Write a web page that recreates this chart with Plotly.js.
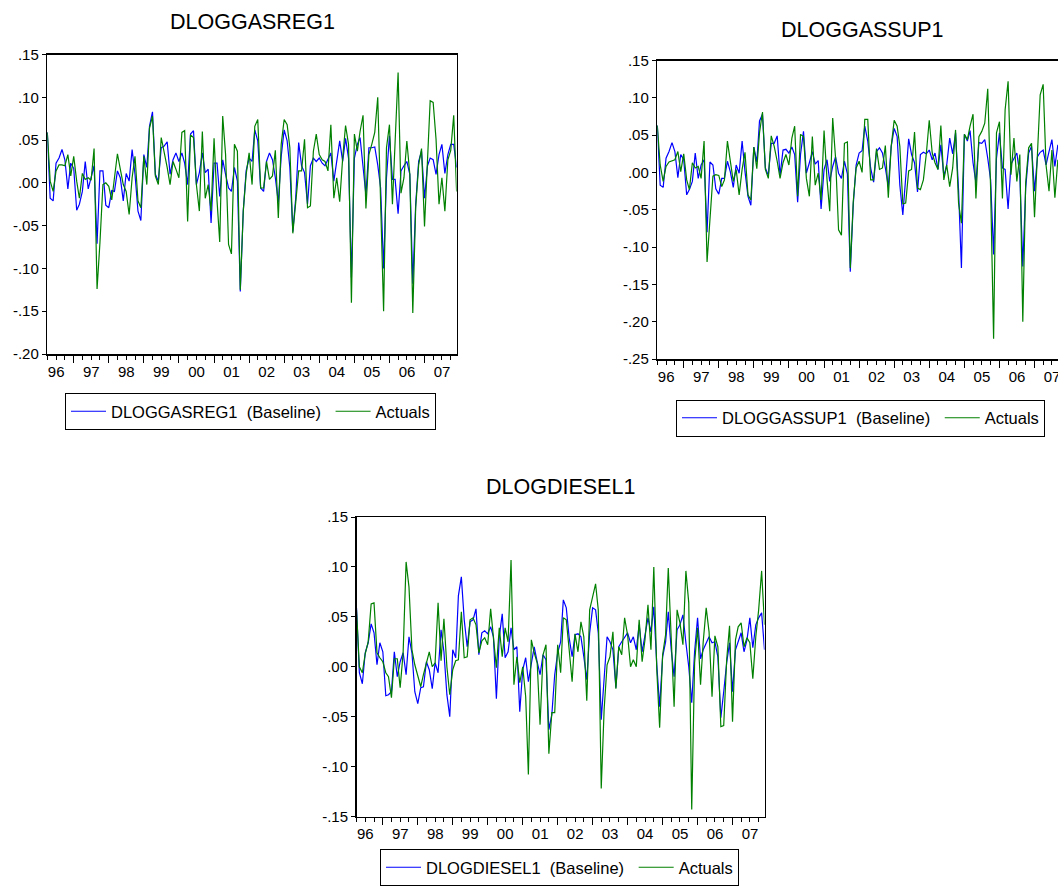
<!DOCTYPE html>
<html>
<head>
<meta charset="utf-8">
<script src="https://cdn.plot.ly/plotly-3.0.1.min.js"></script>
<style>
  html, body { margin: 0; padding: 0; background: #ffffff; overflow: hidden; width: 1058px; height: 886px; }
  #wrap { position: relative; width: 1058px; height: 886px; overflow: hidden; }
  #chart { position: absolute; left: 0; top: 0; width: 1080px; height: 886px; }
</style>
</head>
<body>
<div id="wrap"><div id="chart"></div></div>
<script>
// Monthly observations 1996M04 .. 2007M12
const startYear = 1996, startMonth = 4, nObs = 141;
const months = [];
for (let k = 0; k < nObs; k++) {
  const t = (startMonth - 1) + k;
  const y = startYear + Math.floor(t / 12);
  const m = (t % 12) + 1;
  months.push(y + '-' + (m < 10 ? '0' + m : m) + '-01');
}

const yTicks1 = [0.15, 0.10, 0.05, 0.00, -0.05, -0.10, -0.15, -0.20];
const yText1 = ['.15', '.10', '.05', '.00', '-.05', '-.10', '-.15', '-.20'];
const yTicks2 = [0.15, 0.10, 0.05, 0.00, -0.05, -0.10, -0.15, -0.20, -0.25];
const yText2 = ['.15', '.10', '.05', '.00', '-.05', '-.10', '-.15', '-.20', '-.25'];
const yTicks3 = [0.15, 0.10, 0.05, 0.00, -0.05, -0.10, -0.15];
const yText3 = ['.15', '.10', '.05', '.00', '-.05', '-.10', '-.15'];

// DLOGGASREG1
const gasregBaseline = [
  .059,-.018,-.021,.023,.029,.039,.027,-.007,.023,.017,
  -.032,-.025,-.010,.025,-.007,.008,.020,-.071,.014,.014,
  -.026,-.029,-.009,-.010,.014,.006,-.021,.011,.002,.039,
  .010,-.033,-.044,.033,.018,.066,.083,.010,.002,.041,
  .043,.048,.010,.027,.035,.025,.035,.023,-.002,.057,
  .061,-.002,.012,.035,.012,.016,-.047,.023,.023,-.016,
  .027,.010,-.006,-.010,.018,.002,-.127,-.033,.014,.029,
  .025,.062,.049,-.006,-.010,.025,.035,.027,.006,-.023,
  .031,.062,.049,.018,-.057,-.018,.047,.020,.012,-.025,
  .020,.029,.025,.029,.023,.020,.027,.035,.002,.025,
  .049,.025,.052,.029,-.111,.029,.045,.053,.018,-.014,
  .041,.041,.042,.021,-.006,-.100,.006,.055,.004,.004,
  -.036,.014,.020,.025,.010,-.118,-.025,.025,.037,-.018,
  .020,.029,.027,.010,.033,.045,.011,.033,.045,.045,
  .018
];
const gasregActual = [
  .059,.002,-.010,.014,.021,.021,.020,.033,.008,.031,
  .002,-.018,.011,.004,.006,.003,.040,-.124,-.070,-.002,
  .000,-.004,-.020,.006,.034,.016,-.002,-.010,-.037,.006,
  .031,-.021,-.029,.031,-.002,.064,.078,.008,-.002,.053,
  .037,.018,-.002,.025,.016,.006,.059,.061,-.045,.056,
  .053,-.002,-.033,.060,-.018,-.002,-.033,.052,-.021,-.069,
  .078,.033,-.072,-.083,.045,.037,-.125,-.033,.010,.035,
  -.002,.066,.074,-.006,-.006,.025,.004,.008,.038,-.041,
  .045,.074,.068,.041,-.059,-.021,.014,.014,.051,-.029,
  -.027,.037,.057,.033,.027,.025,.014,.068,-.018,.006,
  -.022,.029,.067,.045,-.140,.057,.037,.060,.079,-.030,
  .033,.045,.059,.100,-.014,-.150,.041,.068,-.025,.059,
  .129,-.012,.006,.049,.010,-.152,-.029,.021,.040,-.051,
  .018,.096,.094,.051,-.025,.006,-.033,.027,.038,.079,
  -.010
];

// DLOGGASSUP1 (visible part of the chart)
const gassupBaseline = [
  .063,-.017,-.020,.019,.028,.040,.028,-.007,.024,.017,
  -.030,-.023,-.012,.026,-.008,.010,.017,-.080,.014,.010,
  -.022,-.029,-.008,-.008,.015,.001,-.020,.010,-.001,.042,
  .001,-.032,-.044,.034,.014,.069,.078,.006,-.004,.039,
  .039,.049,-.004,.030,.031,.026,.034,.024,-.040,.024,
  .055,-.001,.013,.028,.011,.016,-.049,.004,.017,-.012,
  .008,.021,-.001,-.008,.015,-.002,-.133,-.043,.010,.026,
  .029,.062,.042,.006,-.013,.028,.033,.026,.006,-.019,
  .035,.059,.048,-.017,-.057,-.005,.045,.024,.013,-.026,
  .024,.027,.025,.030,.017,.026,.004,.037,-.005,.010,
  .046,.025,.053,-.023,-.128,.051,.042,.056,.013,-.014,
  .040,.039,.044,.019,-.010,-.110,.019,.053,.006,.004,
  -.049,.011,.019,.026,-.003,-.126,-.021,.026,.035,-.025,
  .021,.027,.030,.010,.028,.044,.008,.037
];
const gassupActual = [
  .063,.010,-.012,.008,.014,.016,.017,.028,.001,.025,
  -.010,-.023,.013,.006,.008,-.008,.042,-.120,-.057,-.005,
  -.003,-.004,-.019,-.010,.042,.015,-.012,.004,-.030,.004,
  .027,-.030,-.037,.034,.005,.053,.081,.004,-.008,.049,
  .035,.015,-.008,.013,.024,.010,.046,.062,-.032,.051,
  .048,-.008,-.032,.048,-.017,-.001,-.037,.056,-.010,-.052,
  .073,.019,-.077,-.084,.039,.041,-.128,-.039,.006,.015,
  .000,.071,.071,-.010,-.010,.032,.004,.006,.036,-.034,
  .035,.070,.062,.035,-.042,-.041,.002,.004,.054,-.021,
  -.023,-.010,.024,.070,.026,.013,.004,.063,-.010,.010,
  -.019,.006,.057,-.041,-.068,.051,.044,.062,.078,-.035,
  .048,.055,.066,.112,-.021,-.223,.053,.068,-.035,.084,
  .122,-.003,.046,-.012,.024,-.200,-.014,.033,.039,-.060,
  .019,.104,.118,.010,-.025,.030,-.034,.017
];

// DLOGDIESEL1
const dieselBaseline = [
  .059,-.006,-.017,.014,.024,.043,.034,.002,.024,.015,
  -.029,-.028,-.025,.015,-.010,.005,.014,-.008,.030,.014,
  -.025,-.037,-.021,-.020,.005,-.003,-.022,.004,-.006,.037,
  .015,-.028,-.050,.017,.009,.071,.090,.047,.020,.045,
  .047,.058,.012,.034,.036,.033,.040,.030,-.032,.030,
  .053,.009,.015,.039,.017,.020,-.045,-.003,.009,-.015,
  .003,.020,.005,-.008,.012,.007,-.063,-.048,-.008,.014,
  .025,.067,.059,.029,.010,.032,.033,.030,.010,-.013,
  .034,.059,.057,.034,-.053,-.013,.030,.025,.017,-.021,
  .020,.025,.029,.034,.024,.030,.017,.042,.015,.030,
  .049,.035,.060,.002,-.040,.010,.025,.055,.017,-.010,
  .037,.042,.052,.024,.000,-.036,.015,.049,.008,.017,
  .024,.030,.024,.025,.010,-.051,-.025,.004,.024,-.025,
  .017,.025,.034,.015,.027,.049,.019,.042,.049,.054,
  .017
];
const dieselActual = [
  .057,.000,-.006,.013,.025,.063,.064,.014,.009,.005,
  -.006,-.010,-.031,.008,.008,-.021,.014,.105,.080,.017,
  .002,-.010,-.020,-.008,.005,.015,.000,.004,.064,.006,
  .048,.000,-.028,-.003,.006,.007,.055,.009,.010,.047,
  .049,.042,.014,.026,.029,.022,.058,.027,-.001,.039,
  .010,.039,.025,.107,-.018,.010,-.016,.000,-.030,-.108,
  .027,.014,.004,-.058,.012,.022,-.087,-.046,-.046,.022,
  -.006,.049,.047,.017,-.015,.033,.015,.045,.030,-.034,
  .057,.070,.083,.057,-.122,-.043,.002,.010,.035,-.022,
  .020,.012,.049,.032,.000,.007,.000,.047,.005,.027,
  .062,.017,.100,-.003,-.061,.012,.032,.099,.020,-.040,
  .057,.044,.022,.096,.064,-.143,.004,.039,-.018,.025,
  .059,.035,-.030,.031,.020,-.060,-.059,.007,.041,-.055,
  .027,.040,.044,.020,.029,.024,-.012,.030,.057,.096,
  .042
];

const W = 1080, H = 886;
const fx = px => px / W;
const fy = px => 1 - px / H;

const BLUE = '#0000ff', GREEN = '#008000';
const FONT = 'Liberation Sans, Arial, Helvetica, sans-serif';
const nb = '\u00a0';

function xAxis(domain, anchor) {
  return {
    domain: domain, anchor: anchor, type: 'date',
    range: [months[0], months[months.length - 1]],
    tick0: '1996-01-01', dtick: 'M12', tickformat: '%y', ticklabelmode: 'period',
    ticks: 'outside', ticklen: 7, tickwidth: 1, tickcolor: '#000',
    ticklabelstandoff: -4,
    minor: { dtick: 'M3', ticks: 'outside', ticklen: 4, tickwidth: 1, tickcolor: '#000', showgrid: false },
    showline: true, mirror: true, linewidth: 1.5, linecolor: '#000',
    showgrid: false, zeroline: false, fixedrange: true,
    tickfont: { family: FONT, size: 15, color: '#000' }
  };
}
function yAxis(domain, anchor, range, vals, text) {
  return {
    domain: domain, anchor: anchor, range: range,
    tickmode: 'array', tickvals: vals, ticktext: text,
    ticks: 'outside', ticklen: 4, tickwidth: 1, tickcolor: '#000',
    showline: true, mirror: true, linewidth: 1.5, linecolor: '#000',
    showgrid: false, zeroline: false, fixedrange: true,
    tickfont: { family: FONT, size: 15, color: '#000' }
  };
}

const traces = [
  { x: months, y: gasregBaseline, xaxis: 'x', yaxis: 'y', type: 'scatter', mode: 'lines',
    line: { color: BLUE, width: 1.2 }, name: 'DLOGGASREG1' + nb + nb + '(Baseline)' + nb, legend: 'legend' },
  { x: months, y: gasregActual, xaxis: 'x', yaxis: 'y', type: 'scatter', mode: 'lines',
    line: { color: GREEN, width: 1.2 }, name: 'Actuals', legend: 'legend' },
  { x: months.slice(0, gassupBaseline.length), y: gassupBaseline, xaxis: 'x2', yaxis: 'y2', type: 'scatter', mode: 'lines',
    line: { color: BLUE, width: 1.2 }, name: 'DLOGGASSUP1' + nb + nb + '(Baseline)' + nb, legend: 'legend2' },
  { x: months.slice(0, gassupActual.length), y: gassupActual, xaxis: 'x2', yaxis: 'y2', type: 'scatter', mode: 'lines',
    line: { color: GREEN, width: 1.2 }, name: 'Actuals', legend: 'legend2' },
  { x: months, y: dieselBaseline, xaxis: 'x3', yaxis: 'y3', type: 'scatter', mode: 'lines',
    line: { color: BLUE, width: 1.2 }, name: 'DLOGDIESEL1' + nb + nb + '(Baseline)' + nb, legend: 'legend3' },
  { x: months, y: dieselActual, xaxis: 'x3', yaxis: 'y3', type: 'scatter', mode: 'lines',
    line: { color: GREEN, width: 1.2 }, name: 'Actuals', legend: 'legend3' }
];

function legendAt(xpx, ypx, anchor) {
  return {
    x: fx(xpx), y: fy(ypx), xanchor: 'left', yanchor: anchor, orientation: 'h',
    bgcolor: '#fff', bordercolor: '#000', borderwidth: 1,
    font: { family: FONT, size: 16.5, color: '#000' },
    itemwidth: 35,
    itemclick: false, itemdoubleclick: false, traceorder: 'normal'
  };
}

const layout = {
  width: W, height: H,
  margin: { l: 0, r: 0, t: 0, b: 0, autoexpand: false },
  paper_bgcolor: '#fff', plot_bgcolor: '#fff',
  showlegend: true,
  xaxis: xAxis([fx(47.3), fx(456.6)], 'y'),
  yaxis: yAxis([fy(354), fy(54.5)], 'x', [-0.20, 0.15], yTicks1, yText1),
  xaxis2: xAxis([fx(657.3), fx(1066.6)], 'y2'),
  yaxis2: yAxis([fy(359), fy(60.5)], 'x2', [-0.25, 0.15], yTicks2, yText2),
  xaxis3: xAxis([fx(356.5), fx(764.5)], 'y3'),
  yaxis3: yAxis([fy(816.5), fy(517)], 'x3', [-0.15, 0.15], yTicks3, yText3),
  legend: legendAt(65, 411.5, 'middle'),
  legend2: legendAt(676, 418, 'middle'),
  legend3: legendAt(380, 886, 'bottom'),
  annotations: [
    { text: 'DLOGGASREG1', x: fx(252), y: fy(22), xref: 'paper', yref: 'paper', showarrow: false,
      xanchor: 'center', yanchor: 'middle', font: { family: FONT, size: 21.5, color: '#000' } },
    { text: 'DLOGGASSUP1', x: fx(862), y: fy(30), xref: 'paper', yref: 'paper', showarrow: false,
      xanchor: 'center', yanchor: 'middle', font: { family: FONT, size: 21.5, color: '#000' } },
    { text: 'DLOGDIESEL1', x: fx(560.5), y: fy(487), xref: 'paper', yref: 'paper', showarrow: false,
      xanchor: 'center', yanchor: 'middle', font: { family: FONT, size: 21.5, color: '#000' } }
  ]
};

Plotly.newPlot('chart', traces, layout, { staticPlot: true, displayModeBar: false });
</script>
</body>
</html>
